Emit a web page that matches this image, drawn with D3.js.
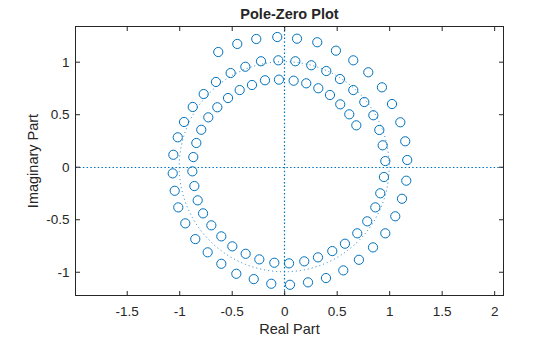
<!DOCTYPE html>
<html>
<head>
<meta charset="utf-8">
<script src="https://cdn.jsdelivr.net/npm/d3@7"></script>
<style>
  html, body { margin: 0; padding: 0; background: #ffffff; }
  svg { display: block; }
  text { font-family: "Liberation Sans", Arial, sans-serif; fill: #262626; }
</style>
</head>
<body>
<svg id="chart" width="560" height="337"></svg>
<script>
// Zeros of the filter, traced along the spiral (real and imaginary parts)
const zerosRe = [
  -0.628, -0.447, -0.266, -0.066, 0.122, 0.315, 0.493, 0.658, 0.801, 0.931,
  1.027, 1.106, 1.153, 1.172, 1.163, 1.122, 1.058, 0.963, 0.846, 0.712,
  0.563, 0.398, 0.227, 0.055, -0.123, -0.290, -0.456, -0.599, -0.729, -0.847,
  -0.942, -1.009, -1.043, -1.062, -1.056, -1.014, -0.954, -0.871, -0.767, -0.650,
  -0.510, -0.370, -0.221, -0.056, 0.106, 0.258, 0.401, 0.531, 0.658, 0.763,
  0.849, 0.906, 0.938, 0.963, 0.950, 0.915, 0.868, 0.791, 0.696, 0.579,
  0.458, 0.322, 0.191, 0.046, -0.094, -0.237, -0.367, -0.494, -0.599, -0.694,
  -0.773, -0.824, -0.856, -0.875, -0.866, -0.837, -0.790, -0.723, -0.637, -0.535,
  -0.424, -0.307, -0.183, -0.050, 0.090, 0.210, 0.325, 0.436, 0.534, 0.620,
  0.687
];
const zerosIm = [
  1.092, 1.169, 1.216, 1.235, 1.219, 1.185, 1.105, 1.013, 0.899, 0.756,
  0.597, 0.423, 0.242, 0.064, -0.133, -0.305, -0.472, -0.634, -0.768, -0.886,
  -0.987, -1.060, -1.101, -1.124, -1.114, -1.070, -1.019, -0.924, -0.815, -0.689,
  -0.539, -0.387, -0.229, -0.063, 0.114, 0.280, 0.426, 0.569, 0.692, 0.807,
  0.892, 0.952, 1.004, 1.013, 1.004, 0.966, 0.911, 0.835, 0.730, 0.616,
  0.490, 0.350, 0.204, 0.054, -0.098, -0.253, -0.387, -0.520, -0.634, -0.733,
  -0.803, -0.863, -0.901, -0.920, -0.914, -0.882, -0.829, -0.758, -0.663, -0.558,
  -0.444, -0.320, -0.184, -0.044, 0.092, 0.226, 0.352, 0.470, 0.566, 0.654,
  0.730, 0.778, 0.823, 0.829, 0.819, 0.794, 0.747, 0.683, 0.594, 0.499,
  0.394
];
const xTicks = [-1.5, -1, -0.5, 0, 0.5, 1, 1.5, 2];
const yTicks = [-1, -0.5, 0, 0.5, 1];
const xTickLabels = ["-1.5", "-1", "-0.5", "0", "0.5", "1", "1.5", "2"];
const yTickLabels = ["-1", "-0.5", "0", "0.5", "1"];
const xDomain = [-1.988, 2.089];
const yDomain = [-1.226, 1.335];

const svg = d3.select("#chart");
const box = { left: 75.5, right: 503.5, top: 26.5, bottom: 295.5 };
const blue = "#0072BD";
const ink = "#262626";

const x = d3.scaleLinear().domain(xDomain).range([box.left, box.right]);
const y = d3.scaleLinear().domain(yDomain).range([box.bottom, box.top]);

const plot = svg.append("g");
svg.append("clipPath").attr("id", "plotclip")
  .append("rect")
  .attr("x", box.left).attr("y", box.top)
  .attr("width", box.right - box.left).attr("height", box.bottom - box.top);

// Real and imaginary axes through the origin
plot.append("line")
  .attr("x1", box.left).attr("x2", box.right)
  .attr("y1", Math.round(y(0)) + 0.5).attr("y2", Math.round(y(0)) + 0.5)
  .attr("stroke", blue).attr("stroke-width", 1.2)
  .attr("stroke-dasharray", "1.5,2.2");
plot.append("line")
  .attr("y1", box.top).attr("y2", box.bottom)
  .attr("x1", Math.round(x(0)) + 0.5).attr("x2", Math.round(x(0)) + 0.5)
  .attr("stroke", blue).attr("stroke-width", 1.2)
  .attr("stroke-dasharray", "1.5,2.2");

// Unit circle
plot.append("ellipse")
  .attr("cx", x(0)).attr("cy", y(0))
  .attr("rx", x(1) - x(0)).attr("ry", y(0) - y(1))
  .attr("fill", "none")
  .attr("stroke", blue).attr("stroke-width", 0.9)
  .attr("stroke-dasharray", "1,3");

// Zero markers
const zeros = zerosRe.map((re, i) => ({ re, im: zerosIm[i] }));
plot.append("g").attr("clip-path", "url(#plotclip)")
  .selectAll("circle")
  .data(zeros)
  .join("circle")
  .attr("cx", d => x(d.re))
  .attr("cy", d => y(d.im))
  .attr("r", 4.6)
  .attr("fill", "none")
  .attr("stroke", blue)
  .attr("stroke-width", 1);

// Axes box with inward ticks on all four sides
const tickLen = 4.5;
const xAxisB = d3.axisBottom(x).tickValues(xTicks).tickSize(-tickLen).tickPadding(11)
  .tickFormat((d, i) => xTickLabels[i]);
const xAxisT = d3.axisTop(x).tickValues(xTicks).tickSize(-tickLen).tickFormat("");
const yAxisL = d3.axisLeft(y).tickValues(yTicks).tickSize(-tickLen).tickPadding(6)
  .tickFormat((d, i) => yTickLabels[i]);
const yAxisR = d3.axisRight(y).tickValues(yTicks).tickSize(-tickLen).tickFormat("");

function styleAxis(g) {
  g.select(".domain").remove();
  g.selectAll(".tick line").attr("stroke", ink).attr("stroke-width", 1);
  g.selectAll(".tick text")
    .attr("fill", ink)
    .style("font-family", '"Liberation Sans", Arial, sans-serif')
    .style("font-size", "13.5px");
}
svg.append("g").attr("transform", `translate(0,${box.bottom})`).call(xAxisB).call(styleAxis);
svg.append("g").attr("transform", `translate(0,${box.top})`).call(xAxisT).call(styleAxis);
svg.append("g").attr("transform", `translate(${box.left},0)`).call(yAxisL).call(styleAxis);
svg.append("g").attr("transform", `translate(${box.right},0)`).call(yAxisR).call(styleAxis);

svg.append("rect")
  .attr("x", box.left).attr("y", box.top)
  .attr("width", box.right - box.left).attr("height", box.bottom - box.top)
  .attr("fill", "none").attr("stroke", ink).attr("stroke-width", 1);

// Title and axis labels
const cx = (box.left + box.right) / 2;
const cy = (box.top + box.bottom) / 2;
svg.append("text")
  .attr("x", cx).attr("y", 19)
  .attr("text-anchor", "middle")
  .style("font-size", "14.5px").style("font-weight", "bold")
  .text("Pole-Zero Plot");
svg.append("text")
  .attr("x", cx).attr("y", 334)
  .attr("text-anchor", "middle")
  .style("font-size", "14.5px")
  .text("Real Part");
svg.append("text")
  .attr("transform", `translate(38,${cy}) rotate(-90)`)
  .attr("text-anchor", "middle")
  .style("font-size", "14.5px")
  .text("Imaginary Part");
</script>
</body>
</html>
